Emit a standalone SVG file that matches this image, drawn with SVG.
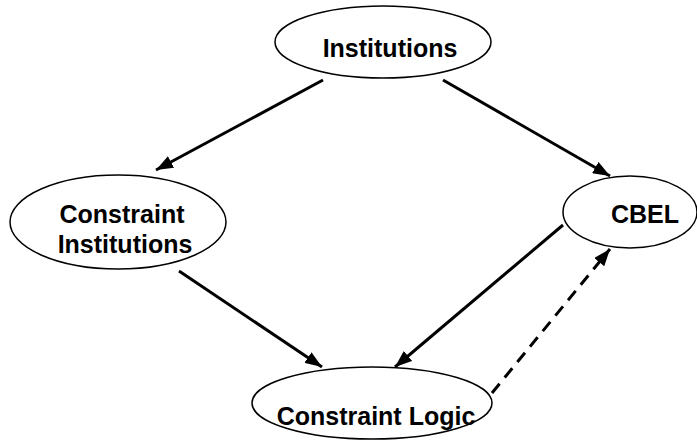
<svg xmlns="http://www.w3.org/2000/svg" width="697" height="440" viewBox="0 0 697 440">
<style>
.node ellipse{fill:#fff;stroke:#000;stroke-width:1.5}
.node text{font-family:"Liberation Sans",Arial,sans-serif;font-weight:bold;font-size:25px;text-anchor:middle;fill:#000}
.edge{stroke:#000;stroke-width:3;fill:none}
.dash{stroke-dasharray:12,8}
</style>
<defs>
<marker id="ah" markerUnits="userSpaceOnUse" markerWidth="17" markerHeight="13" refX="17" refY="6.5" orient="auto">
<path d="M0,0 L17,6.5 L0,13 z" fill="#000"/>
</marker>
</defs>
<rect width="697" height="440" fill="#fff"/>
<g id="connectors">
<line class="edge" x1="323" y1="80" x2="156" y2="170" marker-end="url(#ah)"/>
<line class="edge" x1="443" y1="80" x2="610" y2="176" marker-end="url(#ah)"/>
<line class="edge" x1="179" y1="271" x2="322" y2="367" marker-end="url(#ah)"/>
<line class="edge" x1="563" y1="225" x2="395" y2="367" marker-end="url(#ah)"/>
<line class="edge dash" x1="492" y1="393" x2="610" y2="249" marker-end="url(#ah)"/>
</g>
<g id="institutions" class="node">
<ellipse cx="383" cy="42" rx="108" ry="36"/>
<text x="390" y="57">Institutions</text>
</g>
<g id="constraint-institutions" class="node">
<ellipse cx="118" cy="222" rx="108" ry="47"/>
<text x="122" y="223">Constraint</text>
<text x="125" y="253">Institutions</text>
</g>
<g id="cbel" class="node">
<ellipse cx="630" cy="212" rx="67" ry="36"/>
<text x="645" y="223">CBEL</text>
</g>
<g id="constraint-logic" class="node">
<ellipse cx="372" cy="403" rx="120" ry="36"/>
<text x="376" y="425">Constraint Logic</text>
</g>
</svg>
